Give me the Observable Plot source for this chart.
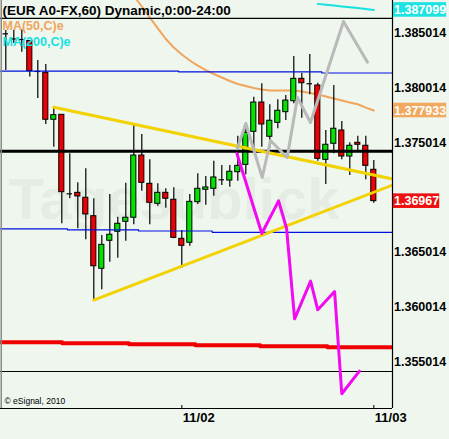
<!DOCTYPE html>
<html>
<head>
<meta charset="utf-8">
<script src="https://cdn.jsdelivr.net/npm/d3@7"></script>
<script src="https://cdn.jsdelivr.net/npm/@observablehq/plot@0.6"></script>
<style>
  html, body { margin: 0; padding: 0; background: #eef6ee; }
  #chart { width: 449px; height: 439px; overflow: hidden; }
</style>
</head>
<body>
<div id="chart"></div>
<script>
// EUR/USD hourly bars, 11/01 02:00 through 11/03 00:00 (bar 22 = 11/02, bar 46 = 11/03)
const opens  = [1.38492,1.38445,1.38440,1.38427,1.38149,1.38137,1.37709,1.37754,1.37034,1.37043,
                1.36998,1.36830,1.36351,1.36606,1.36688,1.36779,1.36816,1.37383,1.37125,1.36943,
                1.37043,1.36980,1.36624,1.36588,1.36958,1.37071,1.37080,1.37162,1.37155,1.37231,
                1.37298,1.37599,1.37866,1.37554,1.37681,1.37778,1.37878,1.38082,1.38037,1.38021,
                1.37344,1.37490,1.37611,1.37374,1.37499,1.37472,1.37253];
const highs  = [1.38522,1.38522,1.38529,1.38431,1.38249,1.38213,1.37823,1.37757,1.37399,1.37134,
                1.37262,1.36989,1.36654,1.37028,1.36821,1.37131,1.37657,1.37575,1.37344,1.37125,
                1.37080,1.37089,1.36700,1.37028,1.37217,1.37192,1.37331,1.37292,1.37292,1.37559,
                1.37657,1.37915,1.38037,1.37845,1.37891,1.37930,1.38285,1.38131,1.38304,1.38042,
                1.37611,1.38021,1.37693,1.37499,1.37559,1.37559,1.37338];
const lows   = [1.38158,1.38404,1.38325,1.38099,1.37903,1.37666,1.37459,1.36761,1.36989,1.36715,
                1.36615,1.36066,1.36159,1.36411,1.36447,1.36602,1.36752,1.37058,1.36752,1.36921,
                1.36903,1.36624,1.36356,1.36557,1.36937,1.36930,1.37012,1.37110,1.37094,1.37149,
                1.37207,1.37444,1.37459,1.37450,1.37627,1.37702,1.37854,1.37723,1.37936,1.37331,
                1.37119,1.37399,1.37344,1.37201,1.37429,1.37162,1.36949];
const closes = [1.38492,1.38445,1.38440,1.38153,1.38149,1.37709,1.37751,1.37049,1.37034,1.37010,
                1.36846,1.36374,1.36569,1.36661,1.36761,1.36816,1.37383,1.37134,1.36952,1.37043,
                1.36989,1.36633,1.36560,1.36961,1.37080,1.37092,1.37183,1.37162,1.37235,1.37289,
                1.37590,1.37866,1.37666,1.37700,1.37791,1.37884,1.38082,1.38042,1.38037,1.37353,
                1.37481,1.37627,1.37374,1.37472,1.37481,1.37289,1.36967];

// Moving averages (MA50 from bar 16, MA200 from bar 39)
const ma50Start = 16;
const ma50 = [1.38837,1.38741,1.38641,1.38541,1.38445,1.38367,1.38304,1.38249,1.38203,1.38162,
              1.38126,1.38094,1.38062,1.38035,1.38017,1.37998,1.37985,1.37976,1.37976,1.37976,
              1.37976,1.37967,1.37953,1.37939,1.37921,1.37903,1.37884,1.37866,1.37850,1.37820,1.377933];
const ma200Start = 39;
const ma200 = [1.38765,1.38758,1.38750,1.38742,1.38735,1.38727,1.38719,1.387099];

// Horizontal levels: step segments (start bar, price)
const blueHighStarts = [-0.66, 21.6, 39.5];
const blueHighLevels = [1.38153, 1.38146, 1.38135];
const blueLowStarts  = [-0.66, 7.7, 16.6, 25.8];
const blueLowLevels  = [1.36715, 1.36706, 1.36695, 1.36683];
const redStarts = [-0.66, 7.05, 15.4, 23.7, 31.8, 40.2];
const redLevels = [1.35682, 1.35673, 1.35664, 1.35654, 1.35645, 1.35636];
const blackThinLevels = [1.38632, 1.35415];
const blackThickLevel = 1.37422;

// Triangle trendlines: anchor bar/price and price at the right edge
const trendStartBars   = [6, 11];
const trendStartPrices = [1.37823, 1.36066];
const trendEndPrices   = [1.37169, 1.37114];

// Projection paths
const magentaBars   = [28.9, 32, 34.1, 35.1, 36.1, 38.1, 39, 41.1, 42, 44.2];
const magentaPrices = [1.37399,1.36672,1.36970,1.36718,1.35895,1.36238,1.35977,1.36144,1.35212,1.35418];
const grayBars   = [28.93, 30.0, 32.05, 33.09, 35.17, 36.46, 38.09, 42.21, 45.21];
const grayPrices = [1.37444,1.37675,1.37183,1.37520,1.37365,1.37912,1.37684,1.38604,1.38233];

// Axis labels
const priceTicks = [1.385014, 1.380014, 1.375014, 1.370014, 1.365014, 1.360014, 1.355014];
const dateTicks = [22, 46];
const dateLabels = ["11/02", "11/03"];
const title = "(EUR A0-FX,60) Dynamic,0:00-24:00";

// ---- layout ----
const W = 449, H = 439;
const frameRight = 392, frameBottom = 408;
const xDomain = [0, 46], xRange = [5.3, 373.3];
const yDomain = [1.355014, 1.385014], yRange = [361.5, 32.3];
const bx = px => xDomain[0] + (px - xRange[0]) / (xRange[1] - xRange[0]) * (xDomain[1] - xDomain[0]);
const py = px => yDomain[0] + (px - yRange[0]) / (yRange[1] - yRange[0]) * (yDomain[1] - yDomain[0]);
const pricePerPx = (yDomain[1] - yDomain[0]) / (yRange[0] - yRange[1]);
const xEnd = bx(frameRight);

const candles = opens.map((o, i) => ({i, open: o, high: highs[i], low: lows[i], close: closes[i]}));
const bodies = candles.filter(d => d.open !== d.close);
const dojis = candles.filter(d => d.open === d.close);

const stepSeries = (starts, levels) => {
  const pts = starts.map((s, k) => ({x: s, y: levels[k]}));
  pts.push({x: xEnd, y: levels[levels.length - 1]});
  return pts;
};
const ma50Pts = ma50.map((v, k) => ({x: ma50Start + k, y: v}));
const ma200Pts = ma200.map((v, k) => ({x: ma200Start + k, y: v}));
const trends = trendStartBars.map((b, k) => [
  {x: b, y: trendStartPrices[k], k}, {x: xEnd, y: trendEndPrices[k], k}
]).flat();
const magentaPts = magentaBars.map((b, k) => ({x: b, y: magentaPrices[k]}));
const grayPts = grayBars.map((b, k) => ({x: b, y: grayPrices[k]}));

// value tags on the price scale; a scale label hidden under a tag is not drawn
const tags = [
  {value: ma200[ma200.length - 1], color: "#1fe3e3"},
  {value: ma50[ma50.length - 1], color: "#f1a85f"},
  {value: closes[closes.length - 1], color: "#ee1111"}
].map(d => ({...d, label: String(d.value)}));
const tagLeft = 393;
const tagWidth = s => 6.95 * (s.length - 1) + 4.5;
const tagHalf = 7.3 * pricePerPx;
const visibleTicks = priceTicks.filter(t => tags.every(g => Math.abs(g.value - t) > 2 * tagHalf));

const font = "'Liberation Sans', Arial, sans-serif";
const green = "#00e400", red = "#f00000";

const chart = Plot.plot({
  width: W, height: H,
  marginLeft: 0, marginRight: W - frameRight, marginTop: 0, marginBottom: H - frameBottom,
  x: {type: "linear", domain: xDomain, range: xRange, axis: null},
  y: {type: "linear", domain: yDomain, range: yRange, axis: null},
  style: {background: "#eef6ee", fontFamily: font, overflow: "visible"},
  marks: [
    // watermark
    Plot.text(["Tagesublick"], {frameAnchor: "top-left", lineAnchor: "bottom", dx: 8, dy: 218,
      text: d => d, fontSize: 58, fontWeight: "bold", fill: "#e4ece4"}),

    // moving averages
    Plot.line(ma50Pts, {x: "x", y: "y", stroke: "#f0a55c", strokeWidth: 2, clip: true}),
    Plot.line(ma200Pts, {x: "x", y: "y", stroke: "#16e0e0", strokeWidth: 2, clip: true}),

    // candles
    Plot.ruleX(candles, {x: "i", y1: "low", y2: "high", stroke: "#000", strokeWidth: 1.2, clip: true}),
    Plot.rect(bodies, {x1: d => d.i - 0.32, x2: d => d.i + 0.32, y1: "open", y2: "close",
      fill: d => d.close > d.open ? green : red, stroke: "#000", strokeWidth: 1, clip: true}),
    Plot.ruleY(dojis, {y: "open", x1: d => d.i - 0.34, x2: d => d.i + 0.34, stroke: "#000", strokeWidth: 1.2}),

    // horizontal levels
    Plot.line(stepSeries(blueHighStarts, blueHighLevels), {x: "x", y: "y", curve: "step-after", stroke: "#0010e0", strokeWidth: 1.2, clip: true}),
    Plot.line(stepSeries(blueLowStarts, blueLowLevels), {x: "x", y: "y", curve: "step-after", stroke: "#0010e0", strokeWidth: 1.2, clip: true}),
    Plot.line(stepSeries(redStarts, redLevels), {x: "x", y: "y", curve: "step-after", stroke: "#f00000", strokeWidth: 4, clip: true}),
    Plot.ruleY(blackThinLevels, {x1: bx(0), x2: xEnd, stroke: "#000", strokeWidth: 1.2}),
    Plot.ruleY([blackThickLevel], {x1: bx(0), x2: xEnd, stroke: "#000", strokeWidth: 3}),

    // trendlines and projections
    Plot.line(trends, {x: "x", y: "y", z: "k", stroke: "#f2d200", strokeWidth: 3, clip: true}),
    Plot.line(grayPts, {x: "x", y: "y", stroke: "#b9b9b9", strokeWidth: 3, clip: true}),
    Plot.line(magentaPts, {x: "x", y: "y", stroke: "#f20af2", strokeWidth: 3, clip: true}),

    // frame edges
    Plot.ruleX([bx(0.75)], {stroke: "#8a8a86", strokeWidth: 1.5}),
    Plot.ruleX([xEnd], {stroke: "#000", strokeWidth: 1.2}),
    Plot.ruleY([py(frameBottom)], {x1: bx(0), x2: xEnd, stroke: "#000", strokeWidth: 1.2}),
    Plot.ruleX(dateTicks, {y1: py(frameBottom - 3), y2: py(frameBottom), stroke: "#000"}),

    // price scale
    Plot.text(visibleTicks, {y: d => d, frameAnchor: "right", textAnchor: "start", dx: 1.5,
      text: d => d.toFixed(6), fontSize: 12.5, fontWeight: "bold", fill: "#000"}),
    Plot.rect(tags, {x1: bx(tagLeft), x2: d => bx(tagLeft + tagWidth(d.label)),
      y1: d => d.value - tagHalf, y2: d => d.value + tagHalf, fill: "color"}),
    Plot.text(tags, {y: "value", frameAnchor: "right", textAnchor: "start", dx: 1.5,
      text: "label", fontSize: 12.5, fontWeight: "bold", fill: "#fff"}),

    // date scale
    Plot.text(dateTicks, {x: d => d, frameAnchor: "bottom", lineAnchor: "middle", dy: 9, dx: 1,
      textAnchor: "start", text: (d, k) => dateLabels[k], fontSize: 13, fontWeight: "bold", fill: "#000"}),

    // titles
    Plot.text([title], {frameAnchor: "top-left", lineAnchor: "bottom", dx: 2, dy: 14,
      text: d => d, fontSize: 13.5, fontWeight: "bold", fill: "#000"}),
    Plot.text(["MA(50,C)e"], {frameAnchor: "top-left", lineAnchor: "bottom", dx: 2, dy: 29.5,
      text: d => d, fontSize: 12.5, fontWeight: "bold", fill: "#f0a55c"}),
    Plot.text(["MA(200,C)e"], {frameAnchor: "top-left", lineAnchor: "bottom", dx: 2, dy: 45.5,
      text: d => d, fontSize: 12.5, fontWeight: "bold", fill: "#16e0e0"}),
    Plot.text(["\u00a9 eSignal, 2010"], {frameAnchor: "bottom-left", lineAnchor: "bottom", dx: 4, dy: -5,
      text: d => d, fontSize: 8.5, fill: "#000"})
  ]
});

document.getElementById("chart").appendChild(chart);
</script>
</body>
</html>
